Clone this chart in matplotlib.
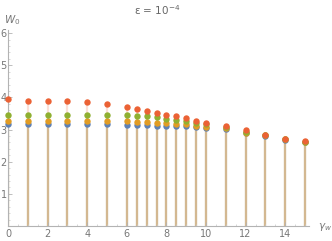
import numpy as np
import matplotlib.pyplot as plt
from matplotlib.ticker import MultipleLocator

# gamma_w values
gamma_w = [0, 1, 2, 3, 4, 5, 6, 6.5, 7, 7.5, 8, 8.5, 9, 9.5, 10, 11, 12, 13, 14, 15]

# W_0 for the four series (Mathematica default colour order)
w_blue = [3.17, 3.17, 3.17, 3.17, 3.17, 3.16, 3.15, 3.15, 3.13, 3.12, 3.12, 3.11, 3.10,
          3.07, 3.04, 3.03, 2.88, 2.81, 2.69, 2.60]
w_orange = [3.26, 3.26, 3.26, 3.26, 3.26, 3.26, 3.26, 3.25, 3.25, 3.22, 3.21, 3.19, 3.17,
            3.11, 3.08, 3.05, 2.89, 2.82, 2.70, 2.61]
w_green = [3.47, 3.47, 3.47, 3.47, 3.47, 3.47, 3.44, 3.41, 3.41, 3.38, 3.33, 3.30, 3.26,
           3.22, 3.17, 3.07, 2.91, 2.82, 2.70, 2.61]
w_red = [3.94, 3.90, 3.90, 3.90, 3.87, 3.81, 3.70, 3.63, 3.58, 3.52, 3.47, 3.41, 3.35,
         3.26, 3.22, 3.11, 2.98, 2.84, 2.72, 2.63]

series = [
    (w_blue, '#5E81B5'),
    (w_orange, '#E19C24'),
    (w_green, '#8FB032'),
    (w_red, '#EB6235'),
]

fig = plt.figure(figsize=(3.32, 2.41), dpi=100)
ax = fig.add_axes([8 / 332, 15 / 241, 301 / 332, 196 / 241])

# stems (filling to axis)
for vals, col in series:
    ax.vlines(gamma_w, 0, vals, colors=col, alpha=0.2, linewidth=1.6, zorder=1)

# points
for vals, col in series:
    ax.plot(gamma_w, vals, 'o', color=col, markersize=4.6, markeredgewidth=0,
            clip_on=False, zorder=3)

ax.set_xlim(0, 15.2)
ax.set_ylim(0, 6.1)

for s in ['top', 'right']:
    ax.spines[s].set_visible(False)
for s in ['left', 'bottom']:
    ax.spines[s].set_color('#b3b3b3')
    ax.spines[s].set_linewidth(0.8)

ax.xaxis.set_major_locator(MultipleLocator(2))
ax.xaxis.set_minor_locator(MultipleLocator(0.5))
ax.set_yticks([1, 2, 3, 4, 5, 6])
ax.yaxis.set_minor_locator(MultipleLocator(0.2))
ax.tick_params(which='major', direction='in', length=3, width=0.6, color='#b3b3b3',
               labelsize=7, labelcolor='#777777', pad=2)
ax.tick_params(which='minor', direction='in', length=1.5, width=0.5, color='#c8c8c8')
ax.tick_params(axis='y', pad=1)

fig.text(157 / 332, 1 - 10 / 241, 'ε = 10$^{-4}$', ha='center', va='center',
         fontsize=7.5, color='#666666')
fig.text(4 / 332, 1 - 20 / 241, r'$W_0$', ha='left', va='center', fontsize=7.5,
         color='#777777')
fig.text(318 / 332, 1 - 227 / 241, r'$\gamma_w$', ha='left', va='center', fontsize=7.5,
         color='#777777')

plt.savefig('out.png', dpi=100)
